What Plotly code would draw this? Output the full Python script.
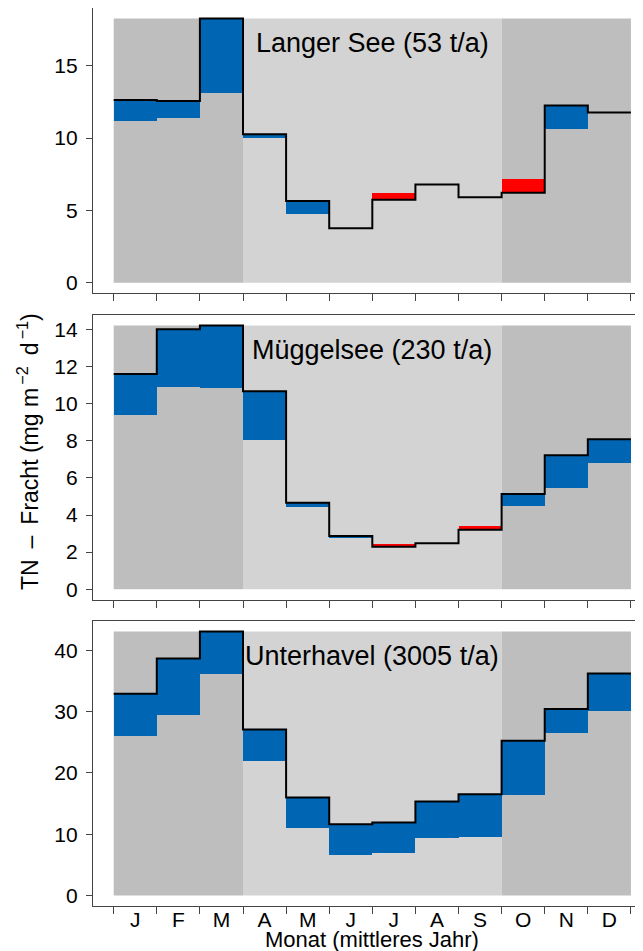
import plotly.graph_objects as go

# ---------------- data ----------------
months = ["J", "F", "M", "A", "M", "J", "J", "A", "S", "O", "N", "D"]

lake_names = ["Langer See (53 t/a)", "Müggelsee (230 t/a)", "Unterhavel (3005 t/a)"]

langer_total = [12.63, 12.57, 18.27, 10.27, 5.66, 3.77, 5.74, 6.80, 5.91, 6.22, 12.26, 11.77]
langer_other = [11.17, 11.40, 13.11, 9.98, 4.72, 3.77, 6.23, 6.80, 5.91, 7.18, 10.62, 11.77]

mueggel_total = [11.61, 14.02, 14.22, 10.68, 4.66, 2.87, 2.29, 2.47, 3.20, 5.14, 7.22, 8.09]
mueggel_other = [9.40, 10.91, 10.87, 8.03, 4.44, 2.78, 2.42, 2.47, 3.38, 4.50, 5.43, 6.79]

unterhavel_total = [32.93, 38.70, 43.10, 27.12, 15.98, 11.63, 11.90, 15.33, 16.52, 25.27, 30.43, 36.25]
unterhavel_other = [26.03, 29.46, 36.09, 21.96, 10.98, 6.68, 6.96, 9.35, 9.51, 16.36, 26.47, 30.11]

season_edges = [0, 3, 9, 12]
y_dticks = [5, 2, 10]

# ---------------- style ----------------
DARK_GRAY = "#BEBEBE"
LIGHT_GRAY = "#D3D3D3"
season_colors = [DARK_GRAY, LIGHT_GRAY, DARK_GRAY]
BLUE = "#0066B3"
RED = "#FF0000"
AXIS_COL = "#444444"
FONT = "Liberation Sans, Arial, sans-serif"

domains = [[0.6823, 1.0], [0.3411, 0.6581], [0.0, 0.3174]]

series = [(langer_total, langer_other), (mueggel_total, mueggel_other),
          (unterhavel_total, unterhavel_other)]

fig = go.Figure()
shapes = []
annotations = []
n = len(months)
centers = [i + 0.5 for i in range(n)]
bounds = list(range(n + 1))

for k, (total, other) in enumerate(series):
    sfx = "" if k == 0 else str(k + 1)
    xa, ya = "x" + sfx, "y" + sfx

    base = [min(t, o) for t, o in zip(total, other)]
    height = [abs(o - t) for t, o in zip(total, other)]
    colors = [BLUE if o < t else RED for t, o in zip(total, other)]

    fig.add_trace(go.Bar(
        x=centers, y=height, base=base, width=[1.0] * n,
        marker=dict(color=colors, line=dict(width=0)),
        xaxis=xa, yaxis=ya, showlegend=False, hoverinfo="skip"))

    fig.add_trace(go.Scatter(
        x=bounds, y=total + [total[-1]], mode="lines",
        line=dict(color="black", width=2, shape="hv"),
        xaxis=xa, yaxis=ya, showlegend=False, hoverinfo="skip"))

    ymax = max(total)
    pad = 0.04 * ymax
    for j in range(len(season_colors)):
        shapes.append(dict(type="rect", xref=xa, yref=ya,
                           x0=season_edges[j], x1=season_edges[j + 1],
                           y0=0, y1=ymax, fillcolor=season_colors[j],
                           line=dict(width=0), layer="below"))

    annotations.append(dict(text=lake_names[k], xref=xa, yref=ya + " domain",
                            x=6, y=0.876, xanchor="center", yanchor="middle",
                            showarrow=False, font=dict(size=27, color="black", family=FONT)))

    fig.update_layout(**{
        "xaxis" + sfx: dict(
            domain=[0, 1], anchor=ya, range=[-0.48, 12.28],
            showline=True, linecolor=AXIS_COL, linewidth=1.3, mirror=True,
            showgrid=False, zeroline=False,
            tickmode="array", tickvals=centers, ticktext=months, ticks="",
            showticklabels=(k == 2), ticklabelstandoff=-5,
            tickfont=dict(size=21, color="black", family=FONT),
            minor=dict(tickmode="array", tickvals=bounds, ticks="outside",
                       ticklen=7, tickwidth=1.2, tickcolor=AXIS_COL, showgrid=False),
        ),
        "yaxis" + sfx: dict(
            domain=domains[k], anchor=xa, range=[-pad, ymax + pad],
            showline=True, linecolor=AXIS_COL, linewidth=1.3, mirror=False,
            showgrid=False, zeroline=False,
            tickmode="linear", tick0=0, dtick=y_dticks[k],
            ticks="outside", ticklen=6, tickwidth=1.2, tickcolor=AXIS_COL,
            ticklabelstandoff=4,
            tickfont=dict(size=21, color="black", family=FONT),
        ),
    })

annotations.append(dict(text="Monat (mittleres Jahr)", xref="x3", yref="paper",
                        x=6, y=-0.0372, xanchor="center", yanchor="middle",
                        showarrow=False, font=dict(size=22, color="black", family=FONT)))
annotations.append(dict(text="TN \u2009–\u2009 Fracht (mg m<sup>\u2009−2</sup>\u2009 d<sup>\u2009−1</sup>)",
                        xref="paper", yref="paper", x=-0.118, y=0.5056,
                        xanchor="center", yanchor="middle", textangle=-90,
                        showarrow=False, font=dict(size=23, color="black", family=FONT)))

# the page body adds an 8 px margin, so the figure is sized to land on the same pixels
fig.update_layout(
    width=635, height=943,
    margin=dict(l=85, r=0, t=0, b=45),
    paper_bgcolor="white", plot_bgcolor="white",
    barmode="overlay", bargap=0,
    shapes=shapes, annotations=annotations,
    font=dict(family=FONT, color="black"),
)

fig.write_html("out.html")
